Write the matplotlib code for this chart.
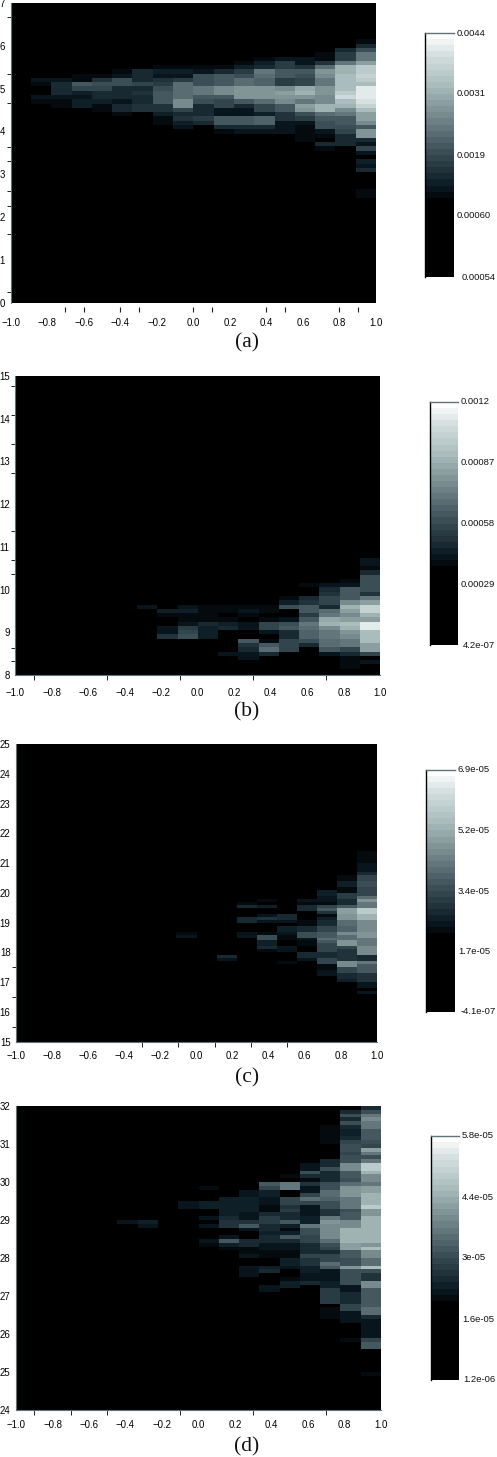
import matplotlib
matplotlib.use('Agg')
import matplotlib.pyplot as plt
import numpy as np
from matplotlib.colors import LinearSegmentedColormap, Normalize

FIG_W, FIG_H = 497, 1457
N_COLS = 18
X_LABELS = [-1.0, -0.8, -0.6, -0.4, -0.2, 0.0, 0.2, 0.4, 0.6, 0.8, 1.0]

# cell brightness, 0 black .. 10 white. Each run: column, top row, levels going down
a_cols = [1, 2, 3, 4, 5, 6, 7, 8, 9, 10, 11, 12, 13, 14, 15, 16, 17]
a_tops = [51, 51, 52, 52, 53, 53, 54, 54, 54, 55, 55, 56, 56, 56, 58, 59, 63]
a_levels = [
    [1, .5, 0, 0, 1, .5],
    [1, 1.5, 1.5, 1.5, 1, .7, .7, .1, .2, .2, 0, .2],
    [.7, .7, 3.5, 2.5, 1.2, .8, 1.3, 1.3, .2, .2, .2],
    [.7, 2, 3, 2.5, 1.5, 1.5, 1.3, .7, .7, .3],
    [.7, .8, 3, 3, 1.5, 1.5, 1.5, .9, 1.5, 1.5, .4],
    [1.5, 1.7, 1.7, 2.5, 1.5, 2, 1.5, 1.5, 2, 2, .3, .1, .1, .1],
    [.7, 1.2, .8, 2, 2.2, 3, 3.5, 3.5, 3.5, 2, 2, 1.2, .6, .7],
    [.7, 1.2, 1, 2.2, 4, 4, 4, 4, 5.3, 5, 2.5, 1.5, 2, 1.3, .9],
    [.7, 1, 3, 3, 3, 4.5, 4.5, 3.5, 3, 1.5, 1.5, 1.5, 2.2, 1.5, .2, .1],
    [.2, .6, 1.5, 3.5, 3.5, 3.5, 5, 5, 3.5, 2.5, 2.5, 1, 1, 3.5, 3.5, 1.5, .5],
    [.6, 1.2, 2.2, 3, 4, 4.2, 5.5, 5.5, 5.5, 3.5, 1.5, .8, .8, 3.5, 3.5, 1.7, 1],
    [.4, 1.2, 1.7, 4.5, 4, 3.7, 3.7, 5.5, 5.5, 5.5, 4, 2.5, 2.5, 1.2, 3.8, 3.8, 1.7, 1],
    [1, 2.2, 2.2, 3.5, 3.5, 2.2, 2.2, 5, 6, 5.5, 5, 3.3, 3.3, 2, 2, .9, .8, .8, .3],
    [1, 1, 2, 3.3, 3, 2.8, 2.8, 6.2, 6.5, 5.5, 4.5, 6, 5.5, 3, 2.2, 1, .7, .7, .7, .4, .2, .2],
    [.3, .5, .6, 2, 4, 5.5, 5, 4.5, 4.5, 5.5, 5.5, 5, 5, 6.5, 6.5, 4, 3.5, 3, 3, 1, .5, .3, 1.5, .7, 0, .1, .1],
    [.3, 1.5, 2.2, 2.2, 4.5, 6.5, 6.5, 7, 7, 7, 7, 7.5, 8.5, 7, 6.5, 5, 4.5, 3.5, 3.5, 3, 2.5, 1.5, 1.5, 1.5, 0, 0, .1],
    [.1, 0, 0, .6, 1.5, 3, 4.5, 4.5, 6, 7.5, 7.5, 8, 7.5, 7, 9, 9, 9, 8.8, 8, 7, 6, 6, 5, 3.5, 5.5, 5.5,
     1.5, 1, 2.5, .8, .2, 1.2, 1, 1.5, 0, 0, 0, .1, .7, .7],
]

b_cols = [4, 6, 6, 7, 8, 9, 10, 11, 12, 13, 14, 15, 16, 17]
b_tops = [12, 15, 8, 14, 15, 15, 15, 15, 16, 17, 20, 20, 21, 26]
b_levels = [
    [.1],
    [1, .3],
    [.3],
    [1.2, .7, .2, .2, 1, 1, 1.8],
    [1, 1.2, .7, .4, 1, 2.2, 2.5, 3],
    [.7, .7, .5, .7, 1.5, 1.3, 1.3, 1.3],
    [.7, .7, .3, .4, 1.3, 1.5, .3, .1, .2, .2, .1, 1],
    [.5, 1, .5, .3, 1, 1, .2, .1, 3.5, 2, 1.5, .8, .8],
    [.2, .5, .5, .2, .4, 2.5, 2.5, 1, .3, .7, 3.3, 4, 1.5],
    [.6, 1.2, 3, 0, 0, .8, 3, 3.5, 1.5, 1.5, 2.5, 2.5, 2.5, .3],
    [.6, .3, .3, 1.5, 2, 3.3, 3.3, 2.2, 3.5, 4.3, 4, 3.7, 3.7, 3, 1.5],
    [1, 1.5, 2, 2.5, 2.8, 1.5, 4, 4.5, 6.3, 6.5, 5, 4.5, 4.5, 4, 4, 3.3, 1],
    [.6, 1, 3.5, 3.5, 3.5, 5, 6.5, 6, 5, 6, 7, 6.5, 5.5, 5, 4.5, 4.5, 2.5, 1.5, .6, .6, .6],
    [1, 1, .5, 1.5, 3, 3, 3, 3, 2, 4.5, 6, 8, 8, 6.5, 6, 9, 9, 7, 7, 7, 6, 6, 2.5, .1, .8],
]

c_cols = [7, 8, 9, 9, 10, 10, 10, 11, 12, 13, 14, 15, 16, 17]
c_tops = [35, 36, 45, 36, 45, 41, 28, 46, 47, 47, 48, 53, 55, 63]
c_levels = [
    [.2, .2],
    [.5, .8],
    [.1],
    [.2],
    [.1],
    [.1],
    [1.5, 1],
    [.7, 1.5, 0, 0, 0, 1.7, 1.7, 0, 0, 0, 1, 1, .3, .3],
    [.4, .3, 1.3, 0, 0, .8, 2, 1, 0, 0, 0, .6, 3, 3, 1.2, 1.2, 1.7, .7],
    [.2, .1, 0, 0, 0, 1.5, 1.5, .8, 0, 1.3, 1.3, .8, .7, .7, .2, .2, .8, .8, .1, .1, .1, .7],
    [.3, 1, .6, 1.5, 1.5, .2, .2, .2, .5, .5, 1.7, 1.7, 3, 3, 1, .7, .7, .3, .3, 1.5, 1.5, .8, .3],
    [.3, .1, .1, 1.3, 1.3, 1, 1, .4, 2.5, 3.5, 2, .4, 1.2, 1.7, 1.7, 2.5, 2.5, 3.5, 3.5, 4, 3.5, 2.5, 2.5, 2.5,
     1.5, 1.5, 2.5, 2.5, .7, .7, 1, 1, 0, 0, .1],
    [.6, .6, 1.3, 1.3, .4, .6, 2.2, 2.2, 1.5, 1.5, 3.5, 6, 6, 5.5, 5.5, 4, 4, 3.8, 3.8, 5, 4, 4, 5.5, 5.5, 2.5,
     2, 2, 2, 2, 5, 5, 2.5, 2.5, 1.5, 1.5, 1.2, 0, .1],
    [.6, .4, .4, .4, 1, .8, .8, 1.5, 2.5, 2.5, 3, 3, 2.5, 2.5, 2.8, 4, 5.5, 4.5, 4.5, 7.5, 7.5, 6.5, 6.5, 5, 5,
     5, 5, 5.5, 5.5, 4.5, 4.5, 4.5, 5, 5, 5, 1.5, 1.5, 4.5, 3.5, 3.5, 3.5, 2, 2, 2, .8, .8, .3, 1],
]

d_cols = [5, 6, 6, 7, 7, 8, 8, 8, 9, 9, 9, 9, 9, 10, 10, 11, 11, 11, 12, 12, 12, 13, 13, 14, 14, 15, 15, 16, 17]
d_tops = [49, 59, 49, 59, 49, 58, 54, 49, 58, 54, 50, 48, 44, 55, 45, 58, 44, 37, 59, 37, 32, 64, 61, 74, 65, 75, 65, 78, 79]
d_levels = [
    [.8],
    [.1],
    [1.2, 1],
    [.1],
    [.3, .3],
    [.3, .3],
    [1, 1],
    [.3, .3, .2],
    [.7, .3],
    [1.2, 1.2],
    [.8],
    [.8],
    [1, .7],
    [1.3, 1.2, 1.2, 1.2, 1.2, 1.5, 2, 2],
    [1, 3.5, 1.2, .5, .3],
    [.3, 1, 1, 1.2, 1.2, 1.2, 1.2, .8, .8, 2, 3.5, .8],
    [1.5, 1.5, .6, .6, .8],
    [1, 1, 1],
    [3.5, 2.5, 1.3, 1.3, 1, 1, .4, .4, 1.5, 2.3, 2.3, 1.7, 1.7, 1.3, 1.5, 1.5, .8, .8, .4, .4],
    [1.2, 1.5],
    [1, 1],
    [.2],
    [.7, 0, 4.5, 4.5, .2, .2, 2.5, 2.5, 2, 2.3, 1.7, 1.7, 3.5, 1.2, .5, 1.3, 3.5, 1.5, 1, 1, .6, .6, 1.2, 1.2, 1,
     0, 0, .5, 1.2, 1.2],
    [.1],
    [.3, 1, 1, 3, 1.5, .5, 2, 1, .8, 2.5, 4, 2.5, 1, 1, 1, 1.2, 1.2, 4.5, 3, 3, 2.5, 2.5, 1.5, 1.5, 1.5, 2.5, 2,
     2, 1.2, 1.2, 1, 1, 1.5, 0, .1, .1, .3],
    [.3, .7, .7, .7, .7, .7],
    [1.5, 1.5, 3, 1.5, 1.5, 1.5, 3, 3, 4, 4, 3.8, 3, 3, 2, 2, 4.5, 5.5, 5, 5, 5, 5, 4, 3, 2.5, 1.5, 2.5, 2.5, 4,
     3.5, 1, 1, 1, 1.3, 1.3, 2.2, 2.2, 2.2, 2.2, 0, .7, .7, .7],
    [1.5, 3, 1.5, 3, 1.5, 1.2, 1.2, 1.5, 2.5, 3, 3, 2.5, 3, 3, 5, 5, 3.5, 3.5, 3, 4, 5.5, 5.5, 5.5, 4.5, 4.5, 4.5,
     3, 3.5, 3.5, 5, 5, 6.5, 6.5, 6.5, 6.5, 6, 6, 3.5, 3.5, 3, 3, 5.5, 3, 3, 3, 3, 1, 1, 1.5, 1.5, 1.5, 2.5, 2.5,
     1, 1, 1, 0, .2, .2, 0, .5, .2, .2, .2, .2, .2],
    [1.7, 3, 4.5, 5, 4.5, 4.5, 3.5, 3.5, 3.5, 3, 2.5, 6, 4.5, 3, 4.5, 7.5, 7.5, 6.5, 5, 5, 4.5, 6, 6, 6.5, 6.5,
     6.5, 7.5, 5.5, 5.5, 6.5, 6.5, 6.5, 6.5, 6.5, 6.5, 6.5, 5.5, 7, 5, 5, 4, 4, 7, 3, 2, 2, 5, 5, 3.5, 3.5, 3.5,
     3.5, 3.5, 4, 4, 1.5, 1, 1, .8, .8, .8, 2.5, 3.5, 3.5, .3, 0, .1, .1, 0, 0, .5, 0, 0, 0, .2, .2, .1],
]

a_ylim, b_ylim, c_ylim, d_ylim = (0, 7), (8, 15), (15, 25), (24, 32)
a_rows, b_rows, c_rows, d_rows = 70, 70, 100, 80
ROW_H = 0.1

a_ylabels = [0, 1, 2, 3, 4, 5, 6, 7]
b_ylabels = [8, 9, 10, 11, 12, 13, 14, 15]
c_ylabels = [15, 16, 17, 18, 19, 20, 21, 22, 23, 24, 25]
d_ylabels = [24, 25, 26, 27, 28, 29, 30, 31, 32]

# only some tick marks survive in the scan
a_yticks = [0.25, 1, 1.6, 2, 2.27, 2.6, 3.3, 3.63, 4, 4.67, 5, 5.33, 6, 6.67]
b_yticks = [8, 8.32, 8.64, 10, 10.36, 10.69, 11.37, 12, 12.73, 13.4, 14.09, 14.77]
c_yticks = [15, 15.5, 16, 16.5, 17, 17.5]
d_yticks = [24, 25]
a_xticks = [-0.7, -0.6, -0.4, -0.3, 0, 0.1, 0.4, 0.5, 0.8, 0.9]
b_xticks = [-1, -0.9, -0.6, -0.5, -0.2, -0.1, 0.2, 0.3, 0.6, 0.7, 1]
c_xticks = [-0.4, -0.3, -0.2, -0.1, 0, 0.1, 0.2, 0.3, 0.4, 0.5]
d_xticks = [-1, -0.9, -0.8, -0.7, -0.5, -0.4, -0.1, 0, 0.2, 0.3, 0.4, 0.6, 0.7, 1]

a_cbar = ['0.00054', '0.00060', '0.0019', '0.0031', '0.0044']
b_cbar = ['4.2e-07', '0.00029', '0.00058', '0.00087', '0.0012']
c_cbar = ['-4.1e-07', '1.7e-05', '3.4e-05', '5.2e-05', '6.9e-05']
d_cbar = ['1.2e-06', '1.6e-05', '3e-05', '4.4e-05', '5.8e-05']

# black up to about 30% of the bar, then a blue-grey ramp up to white
cmap = LinearSegmentedColormap.from_list('scan', [
    (0.0, '#000000'), (0.31, '#000000'), (0.37, '#0a1a22'), (0.51, '#3a4d55'),
    (0.65, '#708488'), (0.79, '#a8bbbb'), (0.93, '#d8e2e2'), (1.0, '#ffffff')], N=40)
norm = Normalize(-4.3, 10)


def px_axes(fig, left, top, right, bottom):
    return fig.add_axes([left / FIG_W, 1 - bottom / FIG_H, (right - left) / FIG_W, (bottom - top) / FIG_H])


def draw_panel(fig, box, cbar_box, ylim, n_rows, cols, tops, levels, yticks, ylabels, xticks, cbar_labels,
               caption, caption_y, x_pad, row_shift=0.0, detached=False):
    ax = px_axes(fig, *box)
    ax.set_facecolor('k')
    grid = np.zeros((n_rows, N_COLS))
    for col, top, vals in zip(cols, tops, levels):
        for i, v in enumerate(vals):
            grid[top - i, col] = v
    x_edges = np.linspace(-1, 1, N_COLS + 1)
    y_edges = ylim[0] + row_shift + ROW_H * np.arange(n_rows + 1)
    mesh = ax.pcolormesh(x_edges, y_edges, grid, cmap=cmap, norm=norm)
    ax.set_xlim(-1, 1)
    ax.set_ylim(*ylim)
    for name in ['top', 'right']:
        ax.spines[name].set_visible(False)
    ax.spines['left'].set_color('#5f7479')
    ax.spines['bottom'].set_color('#5f7479')
    ax.spines['left'].set_linewidth(0.8)
    ax.spines['bottom'].set_linewidth(0.8)

    ax.set_xticks(X_LABELS)
    ax.set_xticklabels([f'{v:.1f}'.replace('-', '\u2212') for v in X_LABELS], fontsize=6.9,
                       family='Liberation Sans')
    ax.tick_params(axis='x', which='major', length=0, pad=x_pad)
    ax.set_yticks(ylabels)
    ax.set_yticklabels([str(v) for v in ylabels], fontsize=6.9, family='Liberation Sans')
    ax.tick_params(axis='y', which='major', length=0, pad=4)
    ax.set_yticks(yticks, minor=True)
    ax.tick_params(axis='y', which='minor', length=3, width=0.7, color='#222222')
    if detached:
        ax.spines['bottom'].set_visible(False)
        trans = ax.get_xaxis_transform()
        ax.vlines(xticks, -0.031, -0.014, transform=trans, clip_on=False, color='#222222', lw=0.8)
    else:
        ax.set_xticks(xticks, minor=True)
        ax.tick_params(axis='x', which='minor', length=3.5, width=0.7, color='#222222')

    fig.text(247 / FIG_W, 1 - caption_y / FIG_H, caption, family='Liberation Serif', fontsize=15.5,
             ha='center', va='center', color='#111111')

    cax = px_axes(fig, *cbar_box)
    cb = fig.colorbar(mesh, cax=cax)
    cb.outline.set_visible(False)
    cb.set_ticks([])
    cax.plot([0, 0], [0, 1], transform=cax.transAxes, color='k', lw=1, clip_on=False)
    cax.plot([0, 1], [1, 1], transform=cax.transAxes, color='#5f7479', lw=1, clip_on=False)
    # bottom label sits against the right edge of the page, the others next to the bar
    fig.text(495.5 / FIG_W, 1 - cbar_box[3] / FIG_H, cbar_labels[0], fontsize=6.8, family='Liberation Sans',
             va='center', ha='right', color='#111111')
    for i, label in enumerate(cbar_labels[1:], start=1):
        cax.text(1 + 3 / (cbar_box[2] - cbar_box[0]), i / 4, label, transform=cax.transAxes, fontsize=6.8,
                 family='Liberation Sans', va='center', ha='left', color='#111111')
    return ax


fig = plt.figure(figsize=(FIG_W / 100, FIG_H / 100), dpi=100)
draw_panel(fig, (10.7, 3, 376, 302.7), (425, 33, 454, 277), a_ylim, a_rows, a_cols, a_tops, a_levels,
           a_yticks, a_ylabels, a_xticks, a_cbar, '(a)', 343, 11, row_shift=0.05, detached=True)
draw_panel(fig, (15.3, 376, 380.3, 675), (430, 402, 458, 645), b_ylim, b_rows, b_cols, b_tops, b_levels,
           b_yticks, b_ylabels, b_xticks, b_cbar, '(b)', 712, 9, row_shift=0.05)
draw_panel(fig, (16, 744, 377, 1041.7), (426, 770, 455, 1012), c_ylim, c_rows, c_cols, c_tops, c_levels,
           c_yticks, c_ylabels, c_xticks, c_cbar, '(c)', 1078, 6.5)
draw_panel(fig, (16, 1106, 381, 1410), (431, 1136, 459, 1380), d_ylim, d_rows, d_cols, d_tops, d_levels,
           d_yticks, d_ylabels, d_xticks, d_cbar, '(d)', 1447, 7.5)

plt.savefig('out.png', dpi=100)
plt.close(fig)
